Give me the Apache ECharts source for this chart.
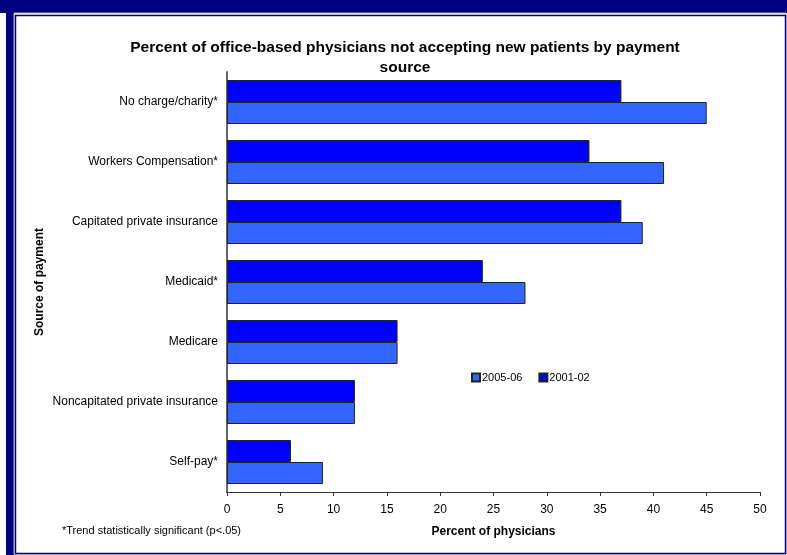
<!DOCTYPE html>
<html>
<head>
<meta charset="utf-8">
<script src="https://cdn.jsdelivr.net/npm/echarts@6/dist/echarts.min.js"></script>
<style>
html, body { margin: 0; padding: 0; background: #fff; }
#chart { width: 787px; height: 555px; }
</style>
</head>
<body>
<div id="chart"></div>
<script>
// 支付来源
var categories = ['No charge/charity*', 'Workers Compensation*', 'Capitated private insurance',
	'Medicaid*', 'Medicare', 'Noncapitated private insurance', 'Self-pay*'];
var values2001 = [37, 34, 37, 24, 16, 12, 6];
var values2005 = [45, 41, 39, 28, 16, 12, 9];
var xTicks = [0, 5, 10, 15, 20, 25, 30, 35, 40, 45, 50];

var myChart = echarts.init(document.getElementById('chart'));
var font = '"Liberation Sans", Arial, sans-serif';

option = {
	animation: false,
	textStyle: { fontFamily: font },
	title: {
		text: 'Percent of office-based physicians not accepting new patients by payment\nsource',
		left: 400,
		top: 33,
		textAlign: 'center',
		textStyle: { fontSize: 15.5, fontWeight: 'bold', color: '#000', lineHeight: 20, fontFamily: font }
	},
	legend: {
		data: ['2005-06', '2001-02'],
		left: 466,
		top: 367,
		icon: 'rect',
		itemWidth: 8,
		itemHeight: 8,
		itemGap: 16,
		textStyle: { fontSize: 11, color: '#000', padding: [0, 0, 0, -3] }
	},
	grid: { left: 227, right: 27, top: 72, bottom: 63 },
	xAxis: {
		type: 'value',
		min: xTicks[0],
		max: xTicks[xTicks.length - 1],
		interval: 5,
		name: 'Percent of physicians',
		nameLocation: 'middle',
		nameGap: 34,
		nameTextStyle: { fontSize: 12, fontWeight: 'bold', color: '#000' },
		axisLine: { show: true, lineStyle: { color: '#333', width: 1 } },
		axisTick: { show: true, length: 4, lineStyle: { color: '#333' } },
		axisLabel: { fontSize: 12, color: '#000', margin: 12 },
		splitLine: { show: false }
	},
	yAxis: {
		type: 'category',
		inverse: true,
		data: categories,
		name: 'Source of payment',
		nameLocation: 'middle',
		nameGap: 181,
		nameRotate: 90,
		nameMoveOverlap: false,
		nameTextStyle: { fontSize: 12, fontWeight: 'bold', color: '#000' },
		axisLine: { show: true, lineStyle: { color: '#666', width: 2 } },
		axisTick: { show: false },
		axisLabel: { fontSize: 12, color: '#000', margin: 9 }
	},
	series: [
		{
			name: '2001-02',
			type: 'bar',
			data: values2001,
			barWidth: 22,
			barGap: '0%',
			itemStyle: { color: '#0000FF', borderColor: '#222', borderWidth: 1 }
		},
		{
			name: '2005-06',
			type: 'bar',
			data: values2005,
			barWidth: 22,
			barGap: '0%',
			itemStyle: { color: '#3366FF', borderColor: '#222', borderWidth: 1 }
		}
	],
	graphic: [
		// 边框
		{ type: 'rect', shape: { x: 0, y: 0, width: 787, height: 13 }, style: { fill: '#000080' }, silent: true },
		{ type: 'rect', shape: { x: 6, y: 0, width: 8, height: 555 }, style: { fill: '#000080' }, silent: true },
		{ type: 'rect', shape: { x: 14, y: 13, width: 772, height: 541 }, style: { fill: 'none', stroke: '#b0b0c8', lineWidth: 1 }, silent: true },
		{ type: 'rect', shape: { x: 15.5, y: 15.5, width: 770, height: 538 }, style: { fill: 'none', stroke: '#000080', lineWidth: 1.5 }, silent: true },
		{
			type: 'text', left: 62, top: 525,
			style: { text: '*Trend statistically significant (p<.05)', fill: '#000', font: '11px ' + font }
		}
	]
};
myChart.setOption(option);
</script>
</body>
</html>
